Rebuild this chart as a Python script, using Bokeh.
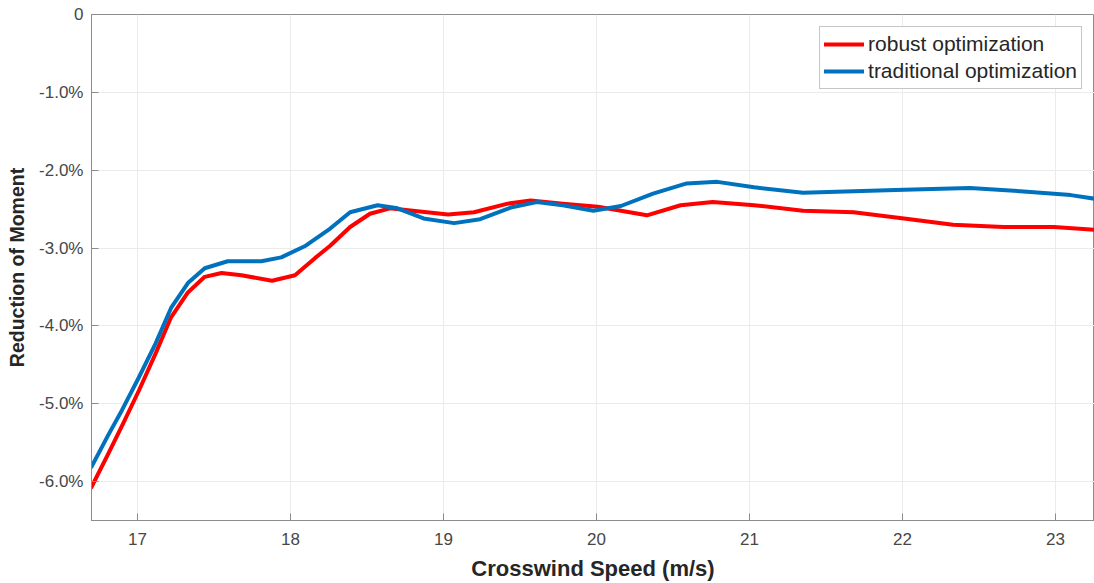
from bokeh.plotting import figure
from bokeh.models import FixedTicker, Range1d, Legend, LegendItem
from bokeh.embed import file_html
from bokeh.resources import INLINE

speed_robust = [16.70, 16.81, 16.90, 17.01, 17.12, 17.22, 17.33, 17.44, 17.55, 17.68,
                17.88, 18.03, 18.16, 18.26, 18.39, 18.52, 18.65, 18.80, 19.03, 19.20,
                19.42, 19.57, 19.78, 20.01, 20.16, 20.33, 20.55, 20.76, 21.03, 21.35,
                21.68, 22.01, 22.33, 22.66, 22.99, 23.30]
reduction_robust = [-6.07, -5.64, -5.28, -4.83, -4.35, -3.89, -3.57, -3.37, -3.32, -3.35,
                    -3.42, -3.35, -3.13, -2.97, -2.73, -2.56, -2.49, -2.52, -2.57, -2.54,
                    -2.43, -2.39, -2.43, -2.47, -2.52, -2.58, -2.45, -2.41, -2.45, -2.52,
                    -2.54, -2.62, -2.70, -2.73, -2.73, -2.77]
speed_trad = [16.70, 16.81, 16.90, 17.01, 17.12, 17.22, 17.33, 17.44, 17.59, 17.81,
              17.94, 18.10, 18.26, 18.39, 18.57, 18.70, 18.87, 19.07, 19.24, 19.44,
              19.61, 19.78, 19.98, 20.16, 20.37, 20.59, 20.79, 21.03, 21.35, 21.68,
              22.01, 22.44, 22.77, 23.10, 23.30]
reduction_trad = [-5.81, -5.40, -5.08, -4.66, -4.22, -3.77, -3.45, -3.26, -3.17, -3.17,
                  -3.12, -2.97, -2.75, -2.54, -2.45, -2.49, -2.62, -2.68, -2.63, -2.48,
                  -2.41, -2.45, -2.52, -2.46, -2.30, -2.17, -2.15, -2.22, -2.29, -2.27,
                  -2.25, -2.23, -2.27, -2.32, -2.38]
x_ticks = [17, 18, 19, 20, 21, 22, 23]
y_ticks = [0, -1, -2, -3, -4, -5, -6]
y_tick_labels = ["0", "-1.0%", "-2.0%", "-3.0%", "-4.0%", "-5.0%", "-6.0%"]
series_names = ["robust optimization", "traditional optimization"]

FONT = "Liberation Sans"
TICK_COL = "#474747"
AX_COL = "#8c8c8c"

p = figure(width=1094, height=583, output_backend="svg", toolbar_location=None,
           x_range=Range1d(16.7, 23.255), y_range=Range1d(-6.5, 0),
           min_border_left=91, min_border_right=0, min_border_top=14, min_border_bottom=63)
p.background_fill_color = "white"
p.border_fill_color = "white"
p.outline_line_color = AX_COL
p.outline_line_width = 1

r1 = p.line(speed_robust, reduction_robust, line_color="#ff0000", line_width=4,
            line_join="round", line_cap="round")
r2 = p.line(speed_trad, reduction_trad, line_color="#0072bd", line_width=4,
            line_join="round", line_cap="round")

for ax in (p.xaxis[0], p.yaxis[0]):
    ax.major_tick_in = 7
    ax.major_tick_out = 0
    ax.minor_tick_line_color = None
    ax.axis_line_color = AX_COL
    ax.major_tick_line_color = AX_COL
    ax.major_label_text_font = FONT
    ax.major_label_text_font_size = "17px"
    ax.major_label_text_color = TICK_COL
    ax.axis_label_text_font = FONT
    ax.axis_label_text_font_style = "bold"
    ax.axis_label_text_color = "#262626"

p.xaxis.ticker = FixedTicker(ticks=x_ticks)
p.yaxis.ticker = FixedTicker(ticks=y_ticks)
p.yaxis.major_label_overrides = {t: l for t, l in zip(y_ticks, y_tick_labels)}
p.xaxis.axis_label = "Crosswind Speed (m/s)"
p.yaxis.axis_label = "Reduction of Moment"
p.xaxis.axis_label_text_font_size = "22px"
p.yaxis.axis_label_text_font_size = "19.5px"
p.xaxis.major_label_standoff = 12
p.yaxis.major_label_standoff = 8
p.xaxis.axis_label_standoff = 8
p.yaxis.axis_label_standoff = 8

p.xgrid.grid_line_color = "#ebebeb"
p.ygrid.grid_line_color = "#ebebeb"
p.xgrid.ticker = FixedTicker(ticks=x_ticks)
p.ygrid.ticker = FixedTicker(ticks=y_ticks)

legend = Legend(items=[LegendItem(label=series_names[0], renderers=[r1]),
                       LegendItem(label=series_names[1], renderers=[r2])],
                location="top_right")
legend.label_text_font = FONT
legend.label_text_font_size = "21px"
legend.label_text_color = "#262626"
legend.glyph_width = 40
legend.glyph_height = 26
legend.label_height = 26
legend.spacing = 1
legend.padding = 4
legend.margin = 12
legend.label_standoff = 4
legend.border_line_color = AX_COL
legend.background_fill_alpha = 1.0
p.add_layout(legend)

open("out.html", "w").write(file_html(p, INLINE))
